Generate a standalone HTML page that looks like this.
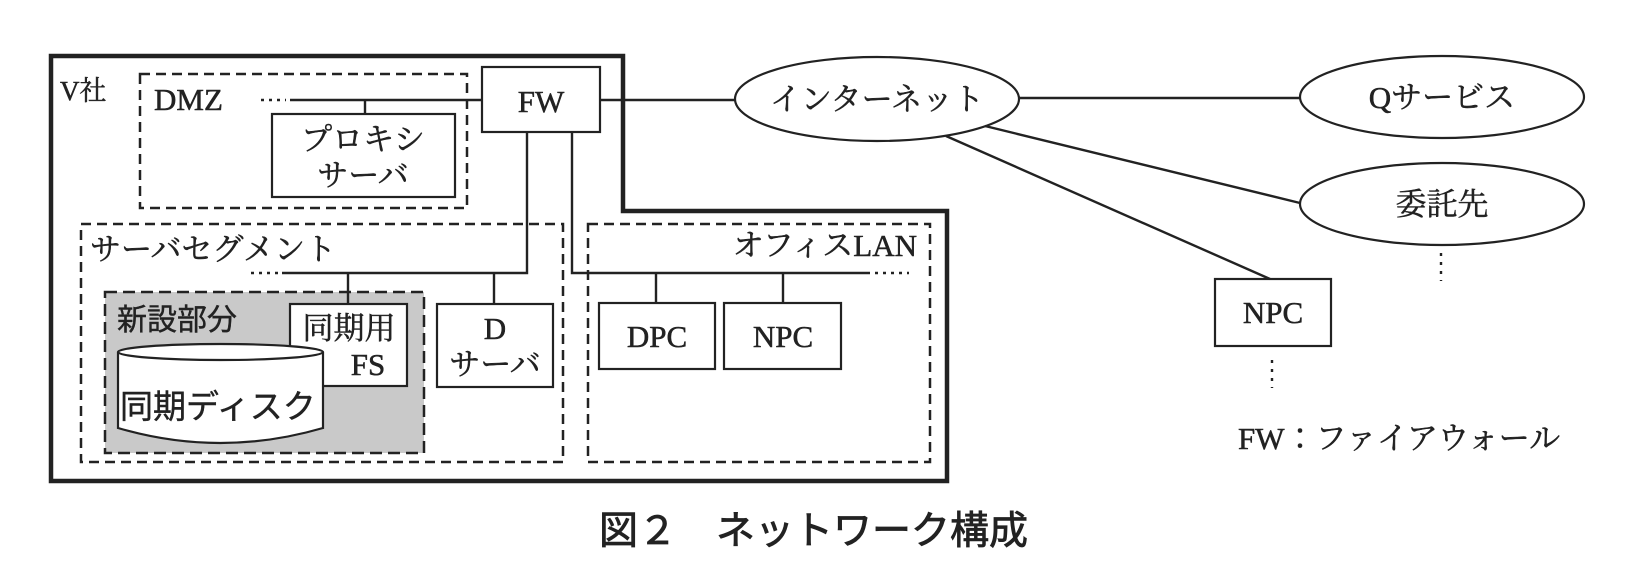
<!DOCTYPE html>
<html><head><meta charset="utf-8"><style>
html,body{margin:0;padding:0;background:#fff;}
svg{display:block;}
.s{font-family:"Liberation Serif","Noto Serif CJK JP","Noto Serif CJK SC",serif;font-size:31px;fill:#222;stroke:#222;stroke-width:0.5;}
.g{font-family:"Liberation Sans","Noto Sans CJK JP",sans-serif;font-size:30px;fill:#222;stroke:#222;stroke-width:0.4;}
</style></head><body>
<svg width="1638" height="580" viewBox="0 0 1638 580" xmlns="http://www.w3.org/2000/svg">
<g fill="none" stroke="#222">
<path d="M51,56 H623 V211 H947 V481 H51 Z" stroke-width="4.5"/>
<rect x="140" y="74" width="327" height="134" stroke-width="2.5" stroke-dasharray="10,6"/>
<rect x="81" y="224" width="482" height="238" stroke-width="2.5" stroke-dasharray="10,6"/>
<rect x="588" y="224" width="342" height="238" stroke-width="2.5" stroke-dasharray="10,6"/>
<rect x="105" y="292" width="319" height="161" fill="#c9c9c9" stroke-width="2.5" stroke-dasharray="12,6"/>
</g>
<g stroke="#222" stroke-width="2.2" fill="#fff">
<rect x="272" y="114" width="183" height="83"/>
<rect x="482" y="67" width="118" height="65"/>
<rect x="290" y="304" width="117" height="82"/>
<rect x="437" y="304" width="116" height="83"/>
<rect x="599" y="303" width="116" height="66"/>
<rect x="724" y="303" width="117" height="66"/>
<rect x="1215" y="279" width="116" height="67"/>
<path d="M118,352 V428 Q220,458 323,428 V352"/>
<ellipse cx="220.5" cy="352" rx="102.5" ry="8"/>
<ellipse cx="877" cy="99" rx="142" ry="42"/>
<ellipse cx="1442" cy="97" rx="142" ry="41"/>
<ellipse cx="1442" cy="204" rx="142" ry="41"/>
</g>
<g stroke="#222" stroke-width="2.4" fill="none">
<path d="M290,100 H482 M365,100 V114"/>
<path d="M261,100 H286" stroke-dasharray="3,5"/>
<path d="M600,100 H735 M1019,98 H1300 M985,126 L1300,203 M946,136 L1270,279"/>
<path d="M527,132 V273 H282 M348,273 V304 M494,273 V304"/>
<path d="M251,273 H280" stroke-dasharray="3,5"/>
<path d="M572,132 V273 H870 M656,273 V303 M783,273 V303"/>
<path d="M875,273 H909" stroke-dasharray="3,5"/>
<path d="M1272,360 V388 M1441,253 V281" stroke-dasharray="3,6"/>
</g>
<text class="s" x="60" y="100" style="font-size:27px">V社</text>
<text class="s" x="154" y="110">DMZ</text>
<text class="s" x="363" y="150" text-anchor="middle">プロキシ</text>
<text class="s" x="363" y="186" text-anchor="middle">サーバ</text>
<text class="s" x="541" y="112" text-anchor="middle">FW</text>
<text class="s" x="90" y="260">サーバセグメント</text>
<text class="s" x="917" y="256" text-anchor="end">オフィスLAN</text>
<text class="g" x="117" y="330" style="font-size:30px">新設部分</text>
<text class="s" x="349" y="339" text-anchor="middle">同期用</text>
<text class="s" x="368" y="375" text-anchor="middle">FS</text>
<text class="g" x="120" y="418" style="font-size:33px">同期ディスク</text>
<text class="s" x="495" y="339" text-anchor="middle">D</text>
<text class="s" x="495" y="375" text-anchor="middle">サーバ</text>
<text class="s" x="657" y="347" text-anchor="middle">DPC</text>
<text class="s" x="783" y="347" text-anchor="middle">NPC</text>
<text class="s" x="877" y="110" text-anchor="middle">インターネット</text>
<text class="s" x="1442" y="108" text-anchor="middle">Qサービス</text>
<text class="s" x="1442" y="215" text-anchor="middle">委託先</text>
<text class="s" x="1273" y="323" text-anchor="middle">NPC</text>
<text class="s" x="1238" y="449">FW：ファイアウォール</text>
<text class="g" x="599" y="544" style="font-size:39px;stroke-width:0.8">図２　ネットワーク構成</text>
</svg>
</body></html>
